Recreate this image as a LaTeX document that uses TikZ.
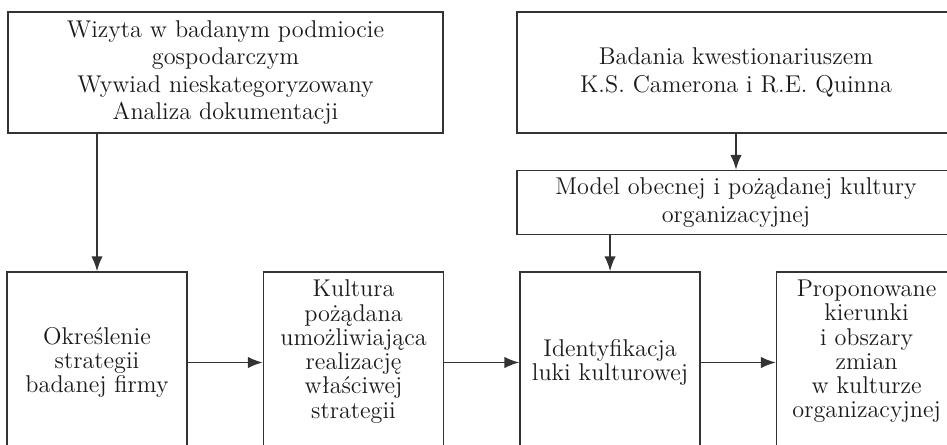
\documentclass[tikz,border=0pt]{standalone}
\usepackage{fontspec}
\usepackage{tikz}
\usetikzlibrary{arrows.meta,positioning}
\definecolor{ramka}{HTML}{333333}
\definecolor{tekst}{HTML}{1A1A1A}

\begin{document}
\begin{tikzpicture}[x=0.02cm, y=-0.02cm,
    blok/.style={rectangle, draw=ramka, line width=0.9pt, text=tekst, align=center, inner sep=2pt, font=\fontsize{13.8}{15.6}\selectfont},
    dolny/.style={blok, minimum width=3.6cm, minimum height=3.62cm, font=\fontsize{13.8}{13.8}\selectfont},
    strz/.style={-{Latex[length=8.5pt,width=6.5pt]}, line width=0.9pt, draw=ramka}
]
\useasboundingbox (0,0) rectangle (947,445);
\clip (0,0) rectangle (947,445);

\node[blok, minimum width=8.7cm, minimum height=2.42cm] (wizyta) at (225.5,72.5) {
    Wizyta w badanym podmiocie\\
    gospodarczym\\
    Wywiad nieskategoryzowany\\
    Analiza dokumentacji
};

\node[blok, minimum width=8.76cm, minimum height=2.42cm] (badania) at (736,72.5) {
    Badania kwestionariuszem\\
    K.S. Camerona i R.E. Quinna
};

\node[blok, below=0.72cm of badania, minimum width=8.76cm, minimum height=1.28cm] (model) {
    Model obecnej i pożądanej kultury\\
    organizacyjnej
};

\node[dolny] (okr) at (97,362.5) {
    Określenie\\
    strategii\\
    badanej firmy
};

\node[dolny, right=1.5cm of okr, text depth=0.54cm] (kult) {
    Kultura\\
    pożądana\\
    umożliwiająca\\
    realizację\\
    właściwej\\
    strategii
};

\node[dolny, right=1.5cm of kult] (ident) {
    Identyfikacja\\
    luki kulturowej
};

\node[dolny, right=1.5cm of ident, text depth=0.54cm] (prop) {
    Proponowane\\
    kierunki\\
    i obszary\\
    zmian\\
    w kulturze\\
    organizacyjnej
};

\draw[strz] (wizyta.south -| okr.north) -- (okr.north);
\draw[strz] (badania) -- (model);
\draw[strz] (model.south -| ident.north) -- (ident.north);
\draw[strz] (okr) -- (kult);
\draw[strz] (kult) -- (ident);
\draw[strz] (ident) -- (prop);
\end{tikzpicture}
\end{document}
